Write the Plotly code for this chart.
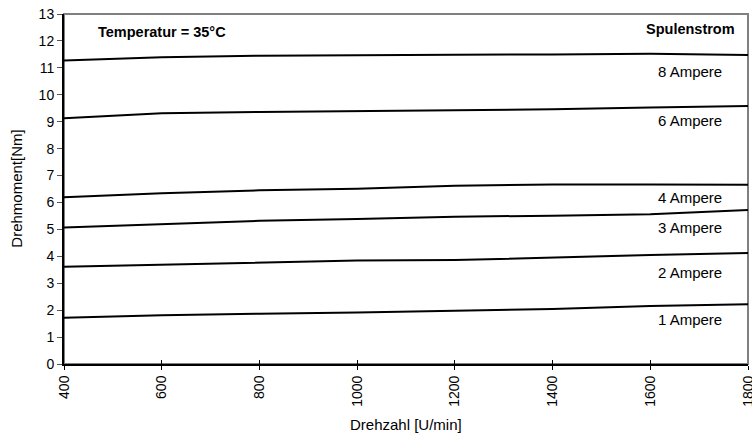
import plotly.graph_objects as go

drehzahl = [400, 600, 800, 1000, 1200, 1400, 1600, 1800]
amp_1 = [1.72, 1.81, 1.87, 1.91, 1.98, 2.04, 2.15, 2.22]
amp_2 = [3.61, 3.69, 3.78, 3.84, 3.86, 3.96, 4.05, 4.12]
amp_3 = [5.07, 5.20, 5.32, 5.39, 5.47, 5.51, 5.56, 5.72]
amp_4 = [6.19, 6.34, 6.45, 6.51, 6.62, 6.67, 6.67, 6.66]
amp_6 = [9.13, 9.31, 9.36, 9.40, 9.43, 9.46, 9.53, 9.58]
amp_8 = [11.27, 11.39, 11.45, 11.48, 11.49, 11.50, 11.52, 11.48]

series = [amp_1, amp_2, amp_3, amp_4, amp_6, amp_8]
labels = ["1 Ampere", "2 Ampere", "3 Ampere", "4 Ampere", "6 Ampere", "8 Ampere"]
label_y = [1.66, 3.41, 5.08, 6.17, 9.03, 10.85]
label_x = 1682

x_ticks = [400, 600, 800, 1000, 1200, 1400, 1600, 1800]
y_ticks = list(range(0, 14))

FONT = "Liberation Sans, Arial, sans-serif"

fig = go.Figure()
for s in series:
    fig.add_trace(go.Scatter(x=drehzahl, y=s, mode="lines",
                             line=dict(color="black", width=2),
                             showlegend=False, hoverinfo="skip"))
# invisible trace for the inner-tick overlay axis
fig.add_trace(go.Scatter(x=[400], y=[0], xaxis="x2", mode="markers",
                         marker=dict(opacity=0), showlegend=False, hoverinfo="skip"))

for t, yv in zip(labels, label_y):
    fig.add_annotation(x=label_x, y=yv, text=t, showarrow=False,
                       xanchor="center", yanchor="middle",
                       font=dict(family=FONT, size=15, color="black"))

fig.add_annotation(x=label_x, y=12.45, text="<b>Spulenstrom</b>", showarrow=False,
                   xanchor="center", yanchor="middle",
                   font=dict(family=FONT, size=14.5, color="black"))
fig.add_annotation(x=400 + (162 - 64) / 684 * 1400, y=12.35, text="<b>Temperatur = 35°C</b>",
                   showarrow=False, xanchor="center", yanchor="middle",
                   font=dict(family=FONT, size=14.5, color="black"))

# axis titles
fig.add_annotation(xref="paper", yref="paper", x=0.5, y=-0.174, text="Drehzahl [U/min]",
                   showarrow=False, xanchor="center", yanchor="middle",
                   font=dict(family=FONT, size=15, color="black"))
fig.add_annotation(xref="paper", yref="paper", x=-0.0687, y=0.501, text="Drehmoment[Nm]",
                   showarrow=False, xanchor="center", yanchor="middle", textangle=-90,
                   font=dict(family=FONT, size=15, color="black"))

# gray frame (top and right)
fig.add_shape(type="rect", xref="paper", yref="paper", x0=0, y0=0, x1=1, y1=1,
              line=dict(color="#808080", width=2), layer="below")

fig.update_layout(
    width=752, height=436,
    margin=dict(l=64, r=4, t=14, b=72, autoexpand=False),
    paper_bgcolor="white", plot_bgcolor="white",
    font=dict(family=FONT, size=14, color="black"),
    xaxis=dict(range=[400, 1800], tickvals=x_ticks, ticktext=[str(v) for v in x_ticks],
               tickangle=-90, ticks="outside", ticklen=4, tickwidth=1, tickcolor="black",
               showline=True, linecolor="black", linewidth=2, showgrid=False, zeroline=False,
               ticklabeloverflow="allow", automargin=False, tickfont=dict(size=14)),
    xaxis2=dict(range=[400, 1800], overlaying="x", side="bottom", tickvals=x_ticks,
                ticks="inside", ticklen=4, tickwidth=1, tickcolor="black",
                showticklabels=False, showline=False, showgrid=False, zeroline=False,
                automargin=False),
    yaxis=dict(range=[0, 13], tickvals=y_ticks, ticks="outside", ticklen=5, tickwidth=1,
               tickcolor="#555555", showline=True, linecolor="black", linewidth=2,
               showgrid=False, zeroline=False, automargin=False, tickfont=dict(size=14)),
)

fig.write_html("out.html")
